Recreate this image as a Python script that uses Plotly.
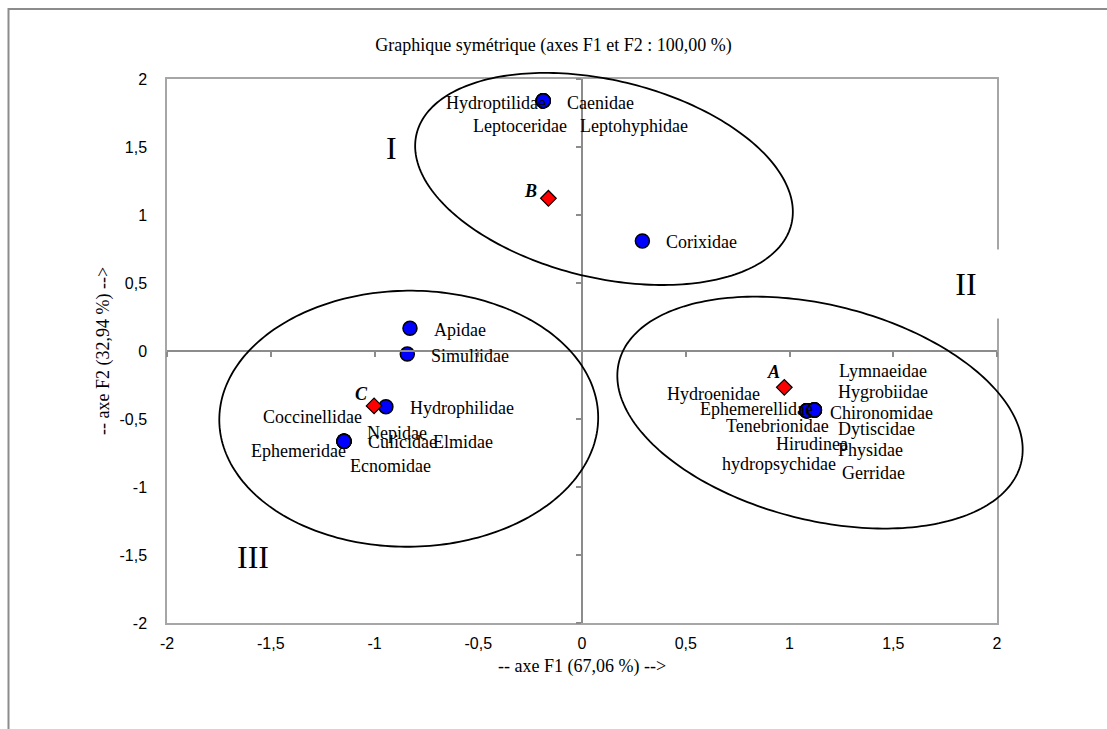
import numpy as np
import plotly.graph_objects as go

# ---- chart data -------------------------------------------------------
# taxa coordinates on the first two factorial axes
taxa = ["Hydroptilidae", "Caenidae", "Leptoceridae", "Leptohyphidae",
        "Corixidae", "Apidae", "Simuliidae", "Hydrophilidae",
        "Coccinellidae", "Nepidae", "Culicidae", "Elmidae", "Ephemeridae", "Ecnomidae",
        "Hydroenidae", "Ephemerellidae", "Tenebrionidae", "Hirudinea", "hydropsychidae",
        "Lymnaeidae", "Hygrobiidae", "Chironomidae", "Dytiscidae", "Physidae", "Gerridae"]
taxa_f1 = [-0.187, -0.187, -0.187, -0.187,
           0.291, -0.829, -0.842, -0.945,
           -1.147, -1.147, -1.147, -1.147, -1.147, -1.147,
           1.083, 1.083, 1.083, 1.083, 1.083,
           1.120, 1.120, 1.120, 1.120, 1.120, 1.120]
taxa_f2 = [1.840, 1.840, 1.840, 1.840,
           0.809, 0.167, -0.022, -0.410,
           -0.664, -0.664, -0.664, -0.664, -0.664, -0.664,
           -0.439, -0.439, -0.439, -0.439, -0.439,
           -0.434, -0.434, -0.434, -0.434, -0.434, -0.434]

# sampling sites
sites = ["A", "B", "C"]
sites_f1 = [0.975, -0.162, -1.002]
sites_f2 = [-0.267, 1.123, -0.404]

# axis ticks
tick_vals = [-2, -1.5, -1, -0.5, 0, 0.5, 1, 1.5, 2]
tick_text = ["-2", "-1,5", "-1", "-0,5", "0", "0,5", "1", "1,5", "2"]

# groups: ellipse centre (F1, F2), half-axes (in F1 units), tilt (deg, clockwise)
groups = ["I", "II", "III"]
group_cx = [0.106, 1.147, -0.835]
group_cy = [1.265, -0.453, -0.498]
group_a = [0.929, 0.999, 0.913]
group_b = [0.476, 0.518, 0.617]
group_tilt = [13.5, 14.2, -0.6]
group_label_f1 = [-0.916, 1.851, -1.586]
group_label_f2 = [1.493, 0.493, -1.515]

# ---- label placement (pixel offsets from the marker) ----------------------
taxa_label_dx = [-47, 57, -23, 91,
                 59, 50, 63, 76,
                 -32, 53, 58, 119, -46, 46,
                 -93, -50, -29, 5, -28,
                 69, 69, 67, 62, 56, 59]
taxa_label_dy = [2, 2, 25, 25,
                 1, 2, 2, 1,
                 -24, -8, 1, 1, 10, 25,
                 -17, -2, 15, 33, 53,
                 -39, -18, 3, 19, 40, 63]
site_label_dx = [-11, -18, -13]
site_label_dy = [-15, -7, -12]

# ---- geometry ---------------------------------------------------------
W, H = 1107, 729
M = dict(l=167, r=110, t=79, b=106)
plot_w = W - M["l"] - M["r"]
plot_h = H - M["t"] - M["b"]
XR, YR = [-2, 2], [-2, 2]
px_x = plot_w / (XR[1] - XR[0])
px_y = plot_h / (YR[1] - YR[0])

SERIF = "Liberation Serif, Times New Roman, serif"
SANS = "Liberation Sans, Arial, sans-serif"
GRAY = "#8c8c8c"


def ellipse_path(cx, cy, a, b, tilt):
    """Closed SVG path (paper coordinates) of a tilted ellipse given in data units."""
    t = np.linspace(0, 2 * np.pi, 240, endpoint=False)
    th = np.radians(tilt)
    dx = a * np.cos(t) * np.cos(th) - b * np.sin(t) * np.sin(th)
    dy = a * np.cos(t) * np.sin(th) + b * np.sin(t) * np.cos(th)
    ex = cx + dx
    ey = cy - dy * px_x / px_y
    px = (ex - XR[0]) / (XR[1] - XR[0])
    py = (ey - YR[0]) / (YR[1] - YR[0])
    pts = ["%.5f,%.5f" % (u, v) for u, v in zip(px, py)]
    return "M " + " L ".join(pts) + " Z"


fig = go.Figure()

fig.add_trace(go.Scatter(
    x=taxa_f1, y=taxa_f2, mode="markers", text=taxa, showlegend=False,
    marker=dict(symbol="circle", size=14, color="#0000ff",
                line=dict(color="black", width=1.5))))

fig.add_trace(go.Scatter(
    x=sites_f1, y=sites_f2, mode="markers", text=sites, showlegend=False,
    marker=dict(symbol="diamond", size=12, color="#ff0000",
                line=dict(color="black", width=1.2))))

# empty trace that brings the overlay (zero-crossing) axes into existence
fig.add_trace(go.Scatter(x=[None], y=[None], xaxis="x2", yaxis="y2",
                         mode="markers", hoverinfo="skip", showlegend=False))

annotations = []
for name, x, y, dx, dy in zip(taxa, taxa_f1, taxa_f2, taxa_label_dx, taxa_label_dy):
    annotations.append(dict(x=x, y=y, xref="x", yref="y", text=name, showarrow=False,
                            xshift=dx, yshift=-dy, xanchor="center", yanchor="middle",
                            font=dict(family=SERIF, size=18, color="black")))
for name, x, y, dx, dy in zip(sites, sites_f1, sites_f2, site_label_dx, site_label_dy):
    annotations.append(dict(x=x, y=y, xref="x", yref="y", text="<b><i>%s</i></b>" % name,
                            showarrow=False, xshift=dx, yshift=-dy,
                            xanchor="center", yanchor="middle",
                            font=dict(family=SERIF, size=18, color="black")))
for name, x, y in zip(groups, group_label_f1, group_label_f2):
    box = dict(bgcolor="white", width=76, height=48, borderpad=10) if name == "II" else {}
    annotations.append(dict(x=x, y=y, xref="x", yref="y", text=name, showarrow=False,
                            xanchor="center", yanchor="middle",
                            font=dict(family=SERIF, size=32, color="black"), **box))

# axis titles
annotations.append(dict(x=0.5, y=-43 / plot_h, xref="paper", yref="paper",
                        text="-- axe F1 (67,06 %) -->",
                        showarrow=False, xanchor="center", yanchor="middle",
                        font=dict(family=SERIF, size=18, color="black")))
annotations.append(dict(x=-64 / plot_w, y=0.5, xref="paper", yref="paper",
                        text="-- axe F2 (32,94 %) -->", textangle=-90,
                        showarrow=False, xanchor="center", yanchor="middle",
                        font=dict(family=SERIF, size=18, color="black")))

# group ellipses and outer chart frame
shapes = [dict(type="path", xref="paper", yref="paper",
               path=ellipse_path(cx, cy, a, b, tl),
               line=dict(color="black", width=1.8), fillcolor="rgba(0,0,0,0)")
          for cx, cy, a, b, tl in zip(group_cx, group_cy, group_a, group_b, group_tilt)]
shapes.append(dict(type="rect", xref="paper", yref="paper",
                   x0=(8.5 - M["l"]) / plot_w, x1=(W + 5 - M["l"]) / plot_w,
                   y0=-(M["b"] + 10) / plot_h, y1=1 + (M["t"] - 9) / plot_h,
                   line=dict(color=GRAY, width=2), layer="below"))

fig.update_layout(
    width=W, height=H, margin=M,
    paper_bgcolor="white", plot_bgcolor="white",
    title=dict(text="Graphique symétrique (axes F1 et F2 : 100,00 %)",
               x=0.5, xref="container", xanchor="center",
               y=1 - 45 / H, yref="container", yanchor="middle",
               font=dict(family=SERIF, size=18, color="black")),
    xaxis=dict(range=XR, tickvals=tick_vals, ticktext=tick_text, showgrid=False,
               zeroline=False, showline=True, mirror=True, linecolor="#a6a6a6",
               linewidth=1.5, ticks="", ticklabelstandoff=5,
               tickfont=dict(family=SANS, size=16, color="black")),
    yaxis=dict(range=YR, tickvals=tick_vals, ticktext=tick_text, showgrid=False,
               zeroline=False, showline=True, mirror=True, linecolor="#a6a6a6",
               linewidth=1.5, ticks="", ticklabelstandoff=15,
               tickfont=dict(family=SANS, size=16, color="black")),
    xaxis2=dict(range=XR, tickvals=tick_vals, showticklabels=False, showgrid=False,
                zeroline=False, overlaying="x", anchor="free", position=0.5,
                side="bottom", showline=True, linecolor=GRAY, linewidth=1.5,
                ticks="outside", ticklen=5, tickcolor=GRAY, tickwidth=1.5),
    yaxis2=dict(range=YR, tickvals=tick_vals, showticklabels=False, showgrid=False,
                zeroline=False, overlaying="y", anchor="free", position=0.5,
                side="left", showline=True, linecolor=GRAY, linewidth=1.5,
                ticks="outside", ticklen=5, tickcolor=GRAY, tickwidth=1.5),
    annotations=annotations,
    shapes=shapes,
)

fig.write_html("out.html")
